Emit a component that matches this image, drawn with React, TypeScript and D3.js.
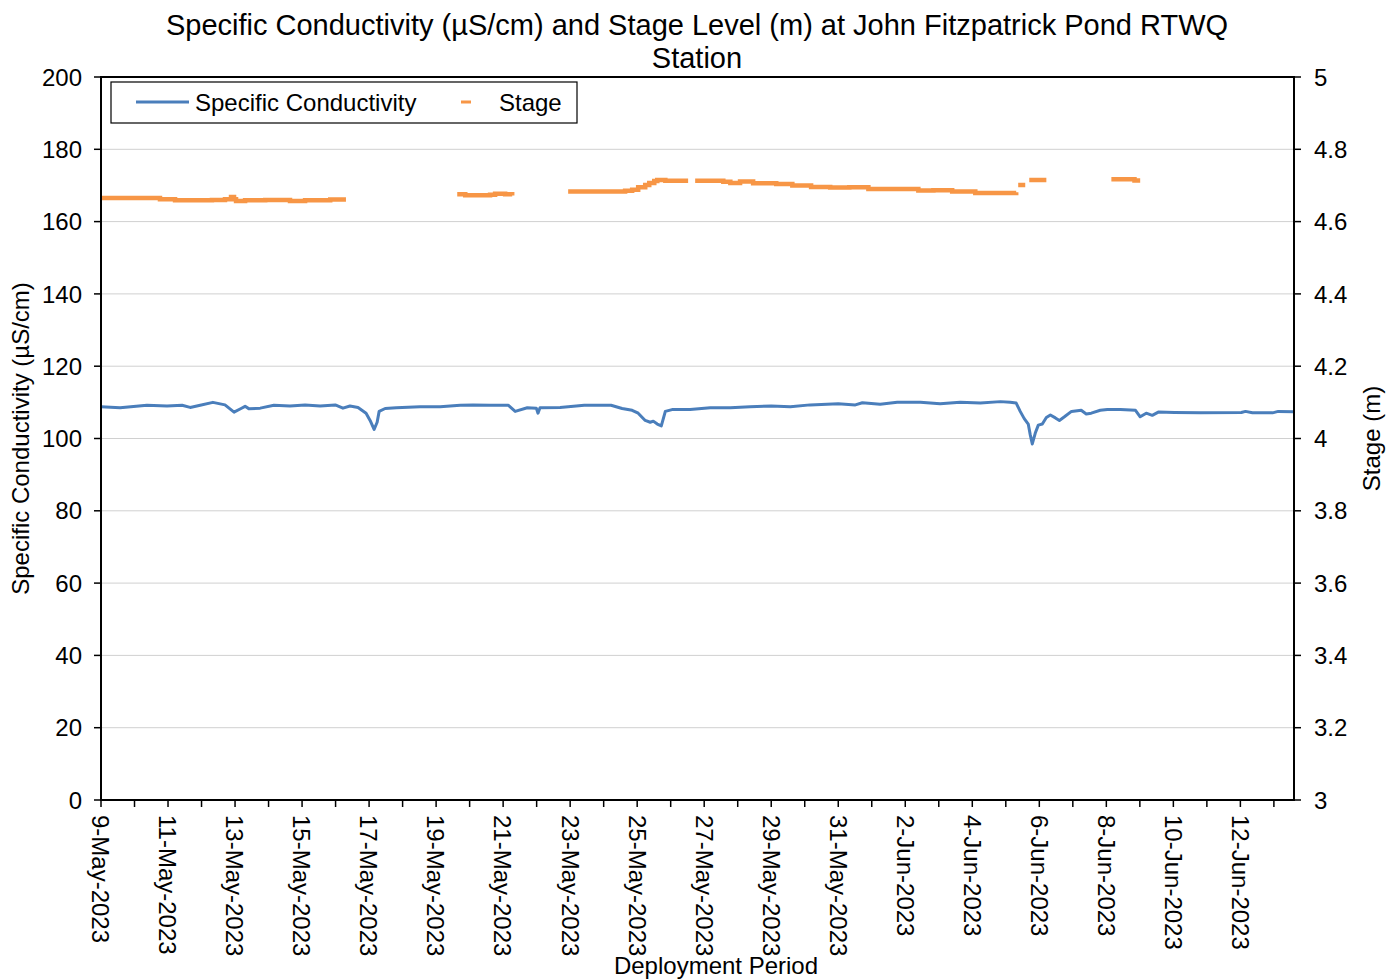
import React from "react";
import * as d3 from "d3";

// ---- text ----
const titleLines = [
  "Specific Conductivity (µS/cm) and Stage Level (m) at John Fitzpatrick Pond RTWQ",
  "Station",
];
const yLeftLabel = "Specific Conductivity (µS/cm)";
const yRightLabel = "Stage (m)";
const xAxisLabel = "Deployment Period";
const seriesNames = ["Specific Conductivity", "Stage"];

// ---- axes (x in days since 9-May-2023 00:00) ----
const xDomainDays = [0, 35.6];
const xTickDays = [0, 2, 4, 6, 8, 10, 12, 14, 16, 18, 20, 22, 24, 26, 28, 30, 32, 34];
const xTickLabels = [
  "9-May-2023", "11-May-2023", "13-May-2023", "15-May-2023", "17-May-2023", "19-May-2023",
  "21-May-2023", "23-May-2023", "25-May-2023", "27-May-2023", "29-May-2023", "31-May-2023",
  "2-Jun-2023", "4-Jun-2023", "6-Jun-2023", "8-Jun-2023", "10-Jun-2023", "12-Jun-2023",
];
const xMinorTickDays = [
  0, 1, 2, 3, 4, 5, 6, 7, 8, 9, 10, 11, 12, 13, 14, 15, 16, 17, 18, 19, 20, 21, 22, 23, 24,
  25, 26, 27, 28, 29, 30, 31, 32, 33, 34, 35,
];
const condTicks = [0, 20, 40, 60, 80, 100, 120, 140, 160, 180, 200];
const stageTicks = [3, 3.2, 3.4, 3.6, 3.8, 4, 4.2, 4.4, 4.6, 4.8, 5];

// ---- Specific conductivity (µS/cm) ----
const condDays = [
  0, 0.57, 1.37, 1.97, 2.42, 2.66, 2.96, 3.34, 3.7, 3.97, 4.18, 4.3, 4.42, 4.75, 5.16, 5.64,
  6.09, 6.54, 6.99, 7.22, 7.43, 7.67, 7.91, 8.03, 8.15, 8.24, 8.3, 8.48, 8.81, 9.52, 10.12,
  10.72, 11.1, 11.61, 12.15, 12.36, 12.72, 12.99, 13.04, 13.1, 13.7, 14.42, 14.9, 15.22, 15.55,
  15.85, 16.03, 16.24, 16.39, 16.48, 16.6, 16.72, 16.84, 17.04, 17.58, 18.18, 18.78, 19.37, 20.0,
  20.57, 21.16, 22.0, 22.51, 22.72, 23.25, 23.76, 24.45, 25.04, 25.64, 26.24, 26.84, 27.13,
  27.31, 27.43, 27.55, 27.67, 27.73, 27.79, 27.88, 27.97, 28.09, 28.21, 28.33, 28.48, 28.6,
  28.75, 28.96, 29.25, 29.4, 29.55, 29.82, 30.03, 30.42, 30.87, 31.01, 31.19, 31.37, 31.55,
  32.03, 32.81, 34.03, 34.15, 34.36, 34.96, 35.13, 35.6,
];
const condValues = [
  108.8, 108.5, 109.2, 109.0, 109.2, 108.6, 109.2, 110.0, 109.3, 107.3, 108.3, 108.9, 108.2,
  108.4, 109.2, 109.0, 109.3, 109.0, 109.3, 108.4, 109.0, 108.6, 107.0, 105.0, 102.5, 104.5,
  107.5, 108.3, 108.5, 108.8, 108.8, 109.2, 109.3, 109.2, 109.2, 107.5, 108.5, 108.4, 107.0,
  108.5, 108.6, 109.2, 109.2, 109.2, 108.3, 107.8, 107.0, 105.0, 104.5, 104.8, 104.0, 103.5,
  107.5, 108.0, 108.0, 108.5, 108.5, 108.8, 109.0, 108.8, 109.3, 109.6, 109.3, 109.9, 109.5,
  110.0, 110.0, 109.6, 110.0, 109.8, 110.2, 110.0, 109.8, 107.5, 105.5, 104.0, 101.0, 98.5,
  101.5, 103.7, 104.0, 105.8, 106.5, 105.7, 105.0, 106.0, 107.5, 107.8, 106.8, 107.0, 107.8,
  108.0, 108.0, 107.8, 106.0, 107.0, 106.4, 107.3, 107.2, 107.1, 107.2, 107.5, 107.1, 107.1,
  107.5, 107.4,
];

// ---- Stage (m); null marks a gap in the record ----
const stageDays = [
  0, 1.16, 1.76, 2.21, 2.96, 3.31, 3.7, 3.88, 3.97, 4.03, 4.3, 4.9, 5.64, 6.09, 6.84, 7.31,
  null,
  10.63, 10.87, 11.61, 11.76, 12.06, 12.27,
  null,
  13.94, 14.9, 15.46, 15.64, 15.85, 16.03, 16.24, 16.36, 16.51, 16.6, 16.84, 17.52,
  null,
  17.73, 18.18, 18.57, 18.78, 19.07, 19.46, 20.15, 20.63, 21.19, 21.76, 22.33, 22.9, 24.03,
  24.39, 24.84, 25.4, 26.09, 26.9, 27.31,
  null,
  27.37, 27.58,
  null,
  27.7, 28.21,
  null,
  30.15, 30.81, 30.84, 31.01,
];
const stageValues = [
  4.665, 4.665, 4.662, 4.659, 4.659, 4.66, 4.662, 4.668, 4.662, 4.657, 4.659, 4.66, 4.657,
  4.659, 4.661, 4.661,
  null,
  4.676, 4.673, 4.674, 4.677, 4.676, 4.672,
  null,
  4.683, 4.683, 4.683, 4.685, 4.688, 4.695, 4.701, 4.707, 4.712, 4.715, 4.713, 4.713,
  null,
  4.713, 4.713, 4.71, 4.707, 4.711, 4.706, 4.704, 4.7, 4.696, 4.694, 4.695, 4.69, 4.69,
  4.686, 4.687, 4.683, 4.679, 4.679, 4.681,
  null,
  4.701, 4.701,
  null,
  4.715, 4.715,
  null,
  4.717, 4.717, 4.714, 4.714,
];

// ---- layout ----
const W = 1398;
const H = 979;
const M = { left: 101, right: 1294, top: 77, bottom: 800 };
const FONT = "'Liberation Sans', Arial, sans-serif";
const BLUE = "#4A7EBB";
const ORANGE = "#F79646";

export default function App() {
  const x = d3.scaleLinear().domain(xDomainDays).range([M.left, M.right]);
  const yL = d3.scaleLinear().domain([0, 200]).range([M.bottom, M.top]);
  const yR = d3.scaleLinear().domain([3, 5]).range([M.bottom, M.top]);

  const condPts = condDays.map((d, i) => [d, condValues[i]] as [number, number]);
  const stagePts = stageDays.map((d, i) => [d, stageValues[i]] as [number | null, number | null]);

  const condLine = d3
    .line<[number, number]>()
    .x((p) => x(p[0]))
    .y((p) => yL(p[1]));
  const stageLine = d3
    .line<[number | null, number | null]>()
    .defined((p) => p[0] !== null && p[1] !== null)
    .x((p) => x(p[0] as number))
    .y((p) => yR(p[1] as number))
    .curve(d3.curveStepAfter);

  const fmtStage = (v: number) => d3.format("~g")(+v.toFixed(1));

  return (
    <svg
      width={W}
      height={H}
      style={{ position: "absolute", left: 0, top: 0, background: "#fff" }}
      fontFamily={FONT}
    >
      <rect width={W} height={H} fill="#fff" />
      {/* title */}
      {titleLines.map((t, i) => (
        <text key={i} x={697} y={35 + i * 33} textAnchor="middle" fontSize={29} fill="#000">
          {t}
        </text>
      ))}

      {/* gridlines */}
      {condTicks.slice(1, -1).map((t) => (
        <line key={t} x1={M.left} x2={M.right} y1={yL(t)} y2={yL(t)} stroke="#d0d0d0" strokeWidth={1} />
      ))}

      {/* series */}
      <path d={condLine(condPts) || ""} fill="none" stroke={BLUE} strokeWidth={3} strokeLinejoin="round" />
      <path d={stageLine(stagePts) || ""} fill="none" stroke={ORANGE} strokeWidth={4.5} />

      {/* plot border */}
      <rect
        x={M.left}
        y={M.top}
        width={M.right - M.left}
        height={M.bottom - M.top}
        fill="none"
        stroke="#000"
        strokeWidth={2}
      />

      {/* left axis */}
      {condTicks.map((t) => (
        <g key={t}>
          <line x1={M.left - 7} x2={M.left} y1={yL(t)} y2={yL(t)} stroke="#000" strokeWidth={1.5} />
          <text x={M.left - 19} y={yL(t)} dy="0.36em" textAnchor="end" fontSize={24}>
            {t}
          </text>
        </g>
      ))}
      {/* right axis */}
      {stageTicks.map((t) => (
        <g key={t}>
          <line x1={M.right} x2={M.right + 7} y1={yR(t)} y2={yR(t)} stroke="#000" strokeWidth={1.5} />
          <text x={M.right + 20} y={yR(t)} dy="0.36em" textAnchor="start" fontSize={24}>
            {fmtStage(t)}
          </text>
        </g>
      ))}
      {/* bottom axis */}
      {xMinorTickDays.map((d) => (
        <line key={d} x1={x(d)} x2={x(d)} y1={M.bottom} y2={M.bottom + 7} stroke="#000" strokeWidth={1.5} />
      ))}
      {xTickDays.map((d, i) => (
        <text
          key={d}
          transform={`translate(${x(d)},${M.bottom + 15}) rotate(90)`}
          dy="0.36em"
          textAnchor="start"
          fontSize={24}
        >
          {xTickLabels[i]}
        </text>
      ))}

      {/* axis titles */}
      <text x={716} y={974} textAnchor="middle" fontSize={24}>
        {xAxisLabel}
      </text>
      <text
        transform={`translate(29,${(M.top + M.bottom) / 2}) rotate(-90)`}
        textAnchor="middle"
        fontSize={24}
      >
        {yLeftLabel}
      </text>
      <text
        transform={`translate(1380,${(M.top + M.bottom) / 2}) rotate(-90)`}
        textAnchor="middle"
        fontSize={24}
      >
        {yRightLabel}
      </text>

      {/* legend */}
      <rect x={111} y={82} width={466} height={41} fill="#fff" stroke="#000" strokeWidth={1.2} />
      <line x1={136} x2={189} y1={102} y2={102} stroke={BLUE} strokeWidth={3} />
      <text x={195} y={102} dy="0.36em" fontSize={24}>
        {seriesNames[0]}
      </text>
      <line x1={461} x2={471} y1={102} y2={102} stroke={ORANGE} strokeWidth={3} />
      <text x={499} y={102} dy="0.36em" fontSize={24}>
        {seriesNames[1]}
      </text>
    </svg>
  );
}
